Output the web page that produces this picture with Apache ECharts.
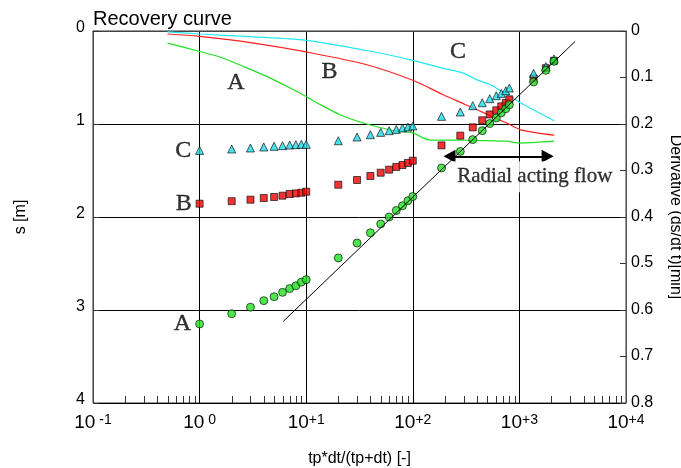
<!DOCTYPE html>
<html>
<head>
<meta charset="utf-8">
<script src="https://cdn.jsdelivr.net/npm/echarts@6/dist/echarts.min.js"></script>
<style>
  html, body { margin: 0; padding: 0; background: #fff; }
  #chart { width: 681px; height: 468px; }
</style>
</head>
<body>
<div id="chart"></div>
<script>
// Horner-type recovery plot: drawdown s [m] (left, inverted) and derivative (right, inverted)
// against equivalent time tp*dt/(tp+dt) on a logarithmic axis.

// Equivalent time of every reading (shared by the three recovery tests)
const eqTime = [1, 2, 3, 4, 5, 6, 7, 8, 9, 10,
  20, 30, 40, 50, 60, 70, 80, 90, 100,
  186, 279, 365, 448, 527, 607, 676, 745, 805,
  1358, 1770, 2110];

// Drawdown of test A (circles)
const drawdownA = [3.15, 3.04, 2.97, 2.90, 2.857, 2.81, 2.77, 2.74, 2.70, 2.674,
  2.44, 2.28, 2.17, 2.075, 2.0, 1.93, 1.88, 1.825, 1.78,
  1.473, 1.295, 1.168, 1.072, 0.995, 0.935, 0.88, 0.836, 0.793,
  0.548, 0.423, 0.326];

// Drawdown of test B (squares)
const drawdownB = [1.857, 1.83, 1.814, 1.796, 1.785, 1.771, 1.753, 1.746, 1.739, 1.728,
  1.653, 1.602, 1.559, 1.524, 1.491, 1.462, 1.441, 1.419, 1.395,
  1.23, 1.125, 1.036, 0.96, 0.897, 0.853, 0.81, 0.774, 0.735,
  0.51, 0.40, 0.32];

// Drawdown of test C (triangles)
const drawdownC = [1.284, 1.269, 1.258, 1.247, 1.24, 1.233, 1.226, 1.222, 1.219, 1.219,
  1.18, 1.14, 1.115, 1.09, 1.072, 1.058, 1.043, 1.032, 1.021,
  0.918, 0.871, 0.803, 0.771, 0.728, 0.696, 0.671, 0.642, 0.613,
  0.455, 0.382, 0.30];

// Derivative curves (right axis)
const derivCX = [0.5, 1, 3, 10, 37, 100, 190, 293, 400, 530, 770, 1170, 2120];
const derivCY = [0.002, 0.0065, 0.012, 0.02, 0.042, 0.063, 0.08, 0.09, 0.105, 0.115, 0.137, 0.162, 0.193];

const derivBX = [0.5, 1, 3, 10, 37, 100, 193, 310, 531, 762, 1016, 1455, 2120];
const derivBY = [0.0065, 0.0116, 0.025, 0.045, 0.0725, 0.106, 0.137, 0.158, 0.182, 0.198, 0.212, 0.219, 0.224];

const derivAX = [0.5, 1, 1.55, 2.56, 4.25, 7.55, 10, 13.5, 20.7, 36.9, 65.6, 100, 140, 320, 762, 1000, 2120];
const derivAY = [0.026, 0.044, 0.056, 0.076, 0.0976, 0.126, 0.141, 0.158, 0.18, 0.2, 0.214, 0.219, 0.234, 0.235, 0.237, 0.241, 0.237];

// Semi-log straight line through the radial flow period
const fitX = [6.08, 3335];
const fitS = [3.123, 0.112];

// Axis tick text
const decadeExponents = [' -1', ' 0', '+1', '+2', '+3', '+4'];
const minorMantissas = [2, 3, 4, 5, 6, 7, 8, 9];
const minorDecades = [0.1, 1, 10, 100, 1000];

// Annotations
const curveLetters = ['A', 'B', 'C'];
const regionLetters = ['A', 'B', 'C'];
const regionX = [2.19, 16.5, 266];
const regionS = [0.561, 0.434, 0.223];
const flowText = 'Radial acting flow';
const flowTextX = 1395;
const flowTextS = 1.567;
const flowArrowX = [221, 1841];
const flowArrowS = 1.348;

const SANS = 'Liberation Sans, Arial, sans-serif';
const SERIF = 'Liberation Serif, Times New Roman, serif';

const minorTicks = [];
minorDecades.forEach(d => minorMantissas.forEach(m => minorTicks.push(m * d)));

function pairs(xs, ys) { return xs.map((x, i) => [x, ys[i]]); }

const letterStyle = {
  fontFamily: SERIF, fontSize: 24, color: '#000',
  textBorderColor: '#000', textBorderWidth: 0.4
};

function markerData(values, letter) {
  return eqTime.map((x, i) => {
    const item = { value: [x, values[i]] };
    if (i === 0) {
      item.label = Object.assign({
        show: true, formatter: letter, position: 'left', distance: 4
      }, letterStyle);
    }
    return item;
  });
}

const chart = echarts.init(document.getElementById('chart'), null, { renderer: 'canvas' });

const option = {
  animation: false,
  backgroundColor: '#fff',
  title: {
    text: 'Recovery curve',
    left: 93, top: 9, padding: 0,
    textStyle: { fontFamily: SANS, fontSize: 20, fontWeight: 'normal', color: '#000' }
  },
  grid: {
    left: 93, right: 55, top: 31, bottom: 65,
    outerBoundsMode: 'none', containLabel: false,
    show: true, borderColor: '#333', borderWidth: 1, backgroundColor: 'transparent'
  },
  xAxis: {
    type: 'log', logBase: 10, min: 0.1, max: 10000,
    name: 'tp*dt/(tp+dt) [-]', nameLocation: 'middle', nameGap: 48,
    nameTextStyle: { fontFamily: SANS, fontSize: 16, color: '#000' },
    axisLine: { show: true, lineStyle: { color: '#444', width: 1 } },
    axisTick: { show: false },
    splitLine: { show: true, lineStyle: { color: '#000', width: 1 } },
    axisLabel: {
      margin: 10,
      formatter: v => {
        const k = Math.round(Math.log10(v)) + 1;
        return '{b|10}{s|' + decadeExponents[k] + '}';
      },
      rich: {
        b: { fontFamily: SANS, fontSize: 19, lineHeight: 20, color: '#000' },
        s: { fontFamily: SANS, fontSize: 14, lineHeight: 20, verticalAlign: 'top', color: '#000' }
      }
    }
  },
  yAxis: [
    {
      type: 'value', inverse: true, min: 0, max: 4, interval: 1,
      name: 's [m]', nameLocation: 'middle', nameGap: 64,
      nameTextStyle: { fontFamily: SANS, fontSize: 16, color: '#000' },
      axisLine: { show: true, lineStyle: { color: '#444' } },
      axisTick: { show: true, inside: true, length: 6, lineStyle: { color: '#333' } },
      splitLine: { show: true, lineStyle: { color: '#000', width: 1 } },
      axisLabel: {
        margin: 8, fontFamily: SANS, fontSize: 16, color: '#000',
        verticalAlign: 'bottom', lineHeight: 6
      }
    },
    {
      type: 'value', inverse: true, min: 0, max: 0.8, interval: 0.1, position: 'right',
      name: 'Derivative (ds/dt t)[min]', nameLocation: 'middle', nameGap: 41, nameRotate: -90,
      nameTextStyle: { fontFamily: SANS, fontSize: 16, color: '#000' },
      axisLine: { show: true, lineStyle: { color: '#555' } },
      axisTick: { show: true, inside: true, length: 6, lineStyle: { color: '#333' } },
      splitLine: { show: false },
      axisLabel: {
        margin: 5, fontFamily: SANS, fontSize: 16, color: '#000',
        verticalAlign: 'bottom', lineHeight: 1
      }
    }
  ],
  series: [
    // minor ticks of the logarithmic time axis
    {
      type: 'custom', xAxisIndex: 0, yAxisIndex: 0, silent: true, z: 3,
      data: minorTicks.map(v => [v, 4]),
      renderItem: (params, api) => {
        const p = api.coord([api.value(0), api.value(1)]);
        const x = Math.round(p[0]) + 0.5;
        return {
          type: 'line',
          shape: { x1: x, y1: p[1], x2: x, y2: p[1] - 7 },
          style: { stroke: '#333', lineWidth: 1 }
        };
      }
    },
    // derivative curves
    {
      type: 'line', yAxisIndex: 1, data: pairs(derivCX, derivCY),
      showSymbol: false, symbol: 'none', smooth: 0.3,
      lineStyle: { color: '#22e8f0', width: 1.2 }, z: 4
    },
    {
      type: 'line', yAxisIndex: 1, data: pairs(derivBX, derivBY),
      showSymbol: false, symbol: 'none', smooth: 0.3,
      lineStyle: { color: '#ff2020', width: 1.2 }, z: 4
    },
    {
      type: 'line', yAxisIndex: 1, data: pairs(derivAX, derivAY),
      showSymbol: false, symbol: 'none', smooth: 0.2,
      lineStyle: { color: '#22e022', width: 1.2 }, z: 4
    },
    // drawdown readings
    {
      type: 'scatter', yAxisIndex: 0, data: markerData(drawdownB, curveLetters[1]),
      symbol: 'rect', symbolSize: 7,
      itemStyle: { color: '#ee0000', borderColor: '#000', borderWidth: 0.8 }, z: 5
    },
    {
      type: 'scatter', yAxisIndex: 0, data: markerData(drawdownC, curveLetters[2]),
      symbol: 'triangle', symbolSize: 8,
      itemStyle: { color: '#22d8e8', borderColor: '#000', borderWidth: 0.8 }, z: 6
    },
    {
      type: 'scatter', yAxisIndex: 0, data: markerData(drawdownA, curveLetters[0]),
      symbol: 'circle', symbolSize: 8,
      itemStyle: { color: '#22e022', borderColor: '#000', borderWidth: 0.8 }, z: 7
    },
    // straight line of the radial flow period
    {
      type: 'line', yAxisIndex: 0, data: pairs(fitX, fitS),
      showSymbol: false, symbol: 'none',
      lineStyle: { color: '#000', width: 1 }, z: 8
    },
    // region letters and the radial flow annotation
    {
      type: 'scatter', yAxisIndex: 0, silent: true, z: 9,
      symbolSize: 1, itemStyle: { color: 'rgba(0,0,0,0)' },
      data: regionX.map((x, i) => ({
        value: [x, regionS[i]],
        label: { show: true, position: 'inside', formatter: regionLetters[i] }
      })).concat([{
        value: [flowTextX, flowTextS],
        label: {
          show: true, position: 'inside', formatter: flowText,
          fontSize: 21, textBorderWidth: 0.3,
          backgroundColor: '#fff', padding: [5, 6, 5, 6]
        }
      }]),
      label: letterStyle,
      markLine: {
        silent: true, animation: false,
        symbol: ['triangle', 'triangle'], symbolSize: [13, 12],
        label: { show: false },
        lineStyle: { color: '#000', width: 2, type: 'solid' },
        data: [[
          { coord: [flowArrowX[0], flowArrowS] },
          { coord: [flowArrowX[1], flowArrowS] }
        ]]
      }
    }
  ]
};

chart.setOption(option);
</script>
</body>
</html>
